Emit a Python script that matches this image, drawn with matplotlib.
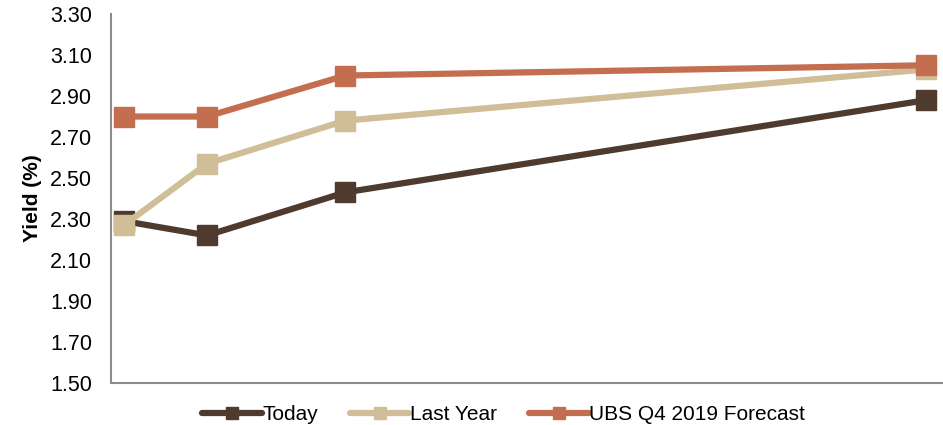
import matplotlib
matplotlib.use("Agg")
import matplotlib.pyplot as plt

plt.rcParams['font.family'] = ['Liberation Sans', 'DejaVu Sans']

# Maturity positions along the (unlabelled) horizontal axis
tenors = [1, 4, 9, 30]

series_names = ["Today", "Last Year", "UBS Q4 2019 Forecast"]
today = [2.29, 2.22, 2.43, 2.88]
last_year = [2.27, 2.57, 2.78, 3.03]
forecast = [2.80, 2.80, 3.00, 3.05]
colors = ["#4F3B2E", "#D0BE98", "#C46E50"]

y_ticks = [1.50, 1.70, 1.90, 2.10, 2.30, 2.50, 2.70, 2.90, 3.10, 3.30]

fig = plt.figure(figsize=(9.43, 4.25), dpi=100)
ax = fig.add_axes([0.1177, 0.0988, 0.8823, 0.8682])

for name, vals, c in zip(series_names, [today, last_year, forecast], colors):
    ax.plot(tenors, vals, color=c, lw=4.5, marker="s", ms=14,
            markeredgecolor=c, label=name, solid_capstyle="round")

ax.set_ylim(1.50, 3.30)
ax.set_xlim(0.53, 30.6)
ax.set_yticks(y_ticks)
ax.set_yticklabels([f"{t:.2f}" for t in y_ticks], fontsize=15.5)
ax.set_xticks([])
ax.tick_params(axis="y", length=0, pad=13.5)

for s in ["top", "right"]:
    ax.spines[s].set_visible(False)
for s in ["left", "bottom"]:
    ax.spines[s].set_color("#8C8C8C")
    ax.spines[s].set_linewidth(1.5)

ax.set_ylabel("Yield (%)", fontsize=15, fontweight="bold", labelpad=6)

handles, labels = ax.get_legend_handles_labels()
leg = fig.legend(handles, labels, loc="center", bbox_to_anchor=(0.534, 0.025),
                 ncol=3, frameon=False, fontsize=15, handlelength=2.85,
                 handletextpad=0.02, columnspacing=1.55, markerscale=0.62)

fig.savefig("out.png", dpi=100)
